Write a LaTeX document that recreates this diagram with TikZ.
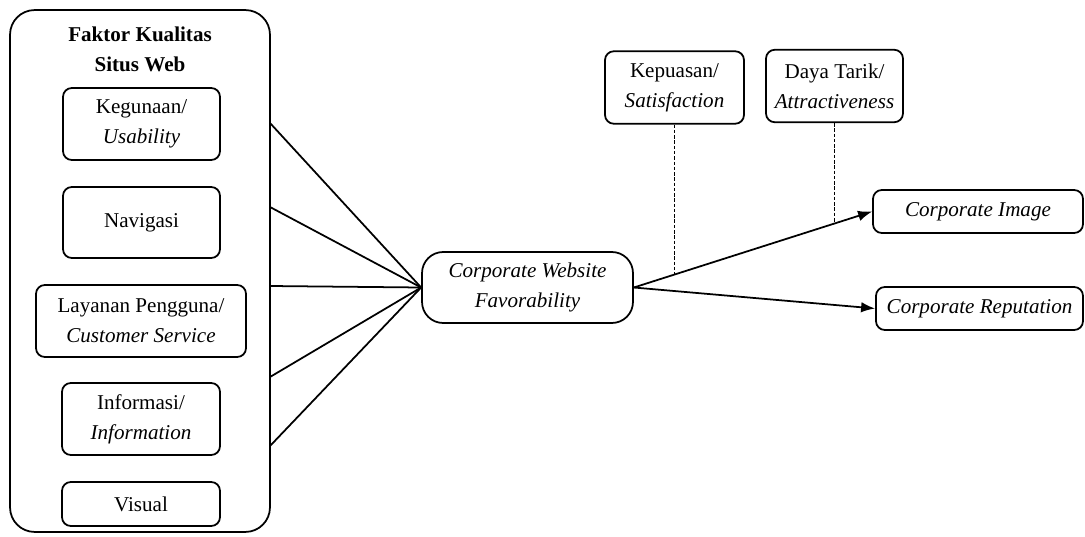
\documentclass[tikz,border=0pt]{standalone}
\usepackage{fontspec}
\setmainfont{Liberation Serif}
\usetikzlibrary{arrows.meta,positioning}

\newcommand{\figsize}{\fontsize{12}{17}\selectfont}

\tikzset{
    factorbox/.style={draw,line width=1pt,rounded corners=5pt,align=center,inner sep=2pt,minimum width=3.14cm,minimum height=1.44cm},
    modbox/.style={draw,line width=1pt,rounded corners=5pt,align=center,inner sep=2pt,minimum height=1.45cm},
    outbox/.style={draw,line width=1pt,rounded corners=5pt,align=center,inner sep=2pt,minimum height=0.86cm,font=\figsize\itshape},
    link/.style={line width=1pt},
    linkarrow/.style={line width=1pt,-{Latex[length=8pt,width=6pt]}},
    modline/.style={line width=0.5pt,dash pattern=on 2pt off 1pt}
}

\begin{document}
\begin{tikzpicture}[x=0.02cm,y=-0.02cm,font=\figsize]
    \useasboundingbox (0,0) rectangle (1085,537);

    % website quality factors
    \node[draw,line width=1pt,rounded corners=14pt,minimum width=5.2cm,minimum height=10.44cm] (outer) at (140,271) {};
    \node[font=\figsize\bfseries,align=center] (title) at (140,49) {Faktor Kualitas\\Situs Web};
    \node[factorbox] (kegunaan) at (141.5,124) {Kegunaan/\\\textit{Usability}};
    \node[factorbox,minimum height=1.42cm] (navigasi) at (141.5,222.5) {Navigasi};
    \node[factorbox,minimum width=4.2cm] (layanan) at (141,321) {Layanan Pengguna/\\\textit{Customer Service}};
    \node[factorbox,minimum width=3.16cm] (informasi) at (141,419) {Informasi/\\\textit{Information}};
    \node[factorbox,minimum width=3.16cm,minimum height=0.88cm] (visual) at (141,504) {Visual};

    % favorability
    \node[draw,line width=1pt,rounded corners=12pt,align=center,font=\figsize\itshape,minimum width=4.22cm,minimum height=1.42cm] (cwf) at (527.5,287.5) {Corporate Website\\Favorability};

    % moderators
    \node[modbox,minimum width=2.78cm] (kepuasan) at (674.5,87.5) {Kepuasan/\\\textit{Satisfaction}};
    \node[modbox,minimum width=2.74cm] (dayatarik) at (834.5,86) {Daya Tarik/\\\textit{Attractiveness}};

    % outcomes
    \node[outbox,minimum width=4.2cm] (image) at (978,211.5) {Corporate Image};
    \node[outbox,minimum width=4.14cm] (reputation) at (979.5,308.5) {Corporate Reputation};

    % links into favorability
    \foreach \y [count=\i] in {123,207,286,377,446}
        \coordinate (in\i) at (270,\y);
    \foreach \i in {1,...,5}
        \draw[link] (in\i) -- (cwf.west);

    % links out of favorability
    \draw[linkarrow] (cwf.east) -- coordinate[pos=0.175] (m1) coordinate[pos=0.8375] (m2) (image.west);
    \draw[linkarrow] (cwf.east) -- (reputation.west);

    % moderator lines
    \draw[modline] (kepuasan.south) -- (kepuasan.south |- m1);
    \draw[modline] (dayatarik.south) -- (dayatarik.south |- m2);
\end{tikzpicture}
\end{document}
